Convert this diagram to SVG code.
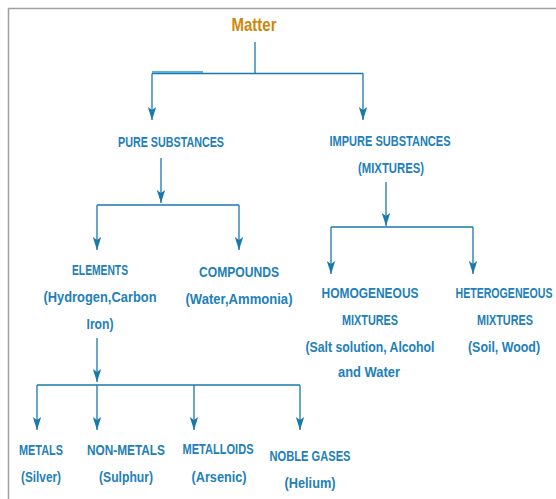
<svg xmlns="http://www.w3.org/2000/svg" width="556" height="499" viewBox="0 0 556 499">
<defs>
<marker id="ah" markerUnits="userSpaceOnUse" markerWidth="14" markerHeight="10" viewBox="0 -5 14 10" refX="13" refY="0" orient="auto">
<path d="M0,-4.2 L13,0 L0,4.2 L3,0 z" fill="#1a78aa"/>
</marker>
<style>
.t{font-family:"Liberation Sans",Arial,sans-serif;font-size:15.5px;font-weight:bold;fill:#2280b8;text-anchor:middle}
.c{stroke:#1a78aa;stroke-width:1.3;fill:none}
.a{stroke:#1a78aa;stroke-width:1.3;fill:none;marker-end:url(#ah)}
</style>
</defs>
<rect width="556" height="499" fill="#ffffff"/>
<path d="M8.5,499 V8.5 H556" stroke="#a0a0a0" stroke-width="1.5" fill="none"/>
<g id="connectors">
<path class="c" d="M255,42 V73.5"/>
<path class="c" d="M152,73.5 H363"/>
<line x1="152" y1="72" x2="203" y2="72" stroke="#5aaee0" stroke-width="2"/>
<path class="a" d="M152,73.5 V120"/>
<path class="a" d="M363,73.5 V120"/>
<path class="a" d="M161,158 V203"/>
<path class="c" d="M97,205 H239"/>
<path class="a" d="M97,205 V250"/>
<path class="a" d="M239,205 V250"/>
<path class="a" d="M97,338 V382"/>
<path class="c" d="M37,385 H300"/>
<path class="a" d="M37,385 V430"/>
<path class="a" d="M97,385 V430"/>
<path class="a" d="M194,385 V430"/>
<path class="a" d="M300,385 V430"/>
<path class="a" d="M386,182 V226"/>
<path class="c" d="M331,227 H473"/>
<path class="a" d="M331,227 V274"/>
<path class="a" d="M473,227 V274"/>
</g>
<g id="matter"><text x="254" y="31" class="t" style="fill:#cc880c;font-size:19px" textLength="45" lengthAdjust="spacingAndGlyphs">Matter</text></g>
<g id="pure"><text x="171" y="147" class="t" textLength="106" lengthAdjust="spacingAndGlyphs">PURE SUBSTANCES</text></g>
<g id="impure">
<text x="390" y="146" class="t" textLength="121" lengthAdjust="spacingAndGlyphs">IMPURE SUBSTANCES</text>
<text x="391" y="173" class="t" textLength="66" lengthAdjust="spacingAndGlyphs">(MIXTURES)</text>
</g>
<g id="elements">
<text x="100" y="275" class="t" textLength="56" lengthAdjust="spacingAndGlyphs">ELEMENTS</text>
<text x="100" y="302" class="t" textLength="113" lengthAdjust="spacingAndGlyphs">(Hydrogen,Carbon</text>
<text x="100" y="329" class="t" textLength="27" lengthAdjust="spacingAndGlyphs">Iron)</text>
</g>
<g id="compounds">
<text x="239" y="277" class="t" textLength="80" lengthAdjust="spacingAndGlyphs">COMPOUNDS</text>
<text x="239" y="304" class="t" textLength="107" lengthAdjust="spacingAndGlyphs">(Water,Ammonia)</text>
</g>
<g id="homogeneous">
<text x="370" y="298" class="t" textLength="97" lengthAdjust="spacingAndGlyphs">HOMOGENEOUS</text>
<text x="370" y="325" class="t" textLength="56" lengthAdjust="spacingAndGlyphs">MIXTURES</text>
<text x="370" y="352" class="t" textLength="129" lengthAdjust="spacingAndGlyphs">(Salt solution, Alcohol</text>
<text x="369" y="377" class="t" textLength="62" lengthAdjust="spacingAndGlyphs">and Water</text>
</g>
<g id="heterogeneous" transform="translate(504,0) scale(0.7,1)">
<text x="0" y="298" class="t" textLength="138.6" lengthAdjust="spacingAndGlyphs">HETEROGENEOUS</text>
<text x="1.4" y="325" class="t" textLength="80" lengthAdjust="spacingAndGlyphs">MIXTURES</text>
<text x="0" y="352" class="t" textLength="102.9" lengthAdjust="spacingAndGlyphs">(Soil, Wood)</text>
</g>
<g id="metals">
<text x="41" y="455" class="t" textLength="44" lengthAdjust="spacingAndGlyphs">METALS</text>
<text x="41" y="482" class="t" textLength="40" lengthAdjust="spacingAndGlyphs">(Silver)</text>
</g>
<g id="nonmetals">
<text x="126" y="455" class="t" textLength="78" lengthAdjust="spacingAndGlyphs">NON-METALS</text>
<text x="126" y="482" class="t" textLength="54" lengthAdjust="spacingAndGlyphs">(Sulphur)</text>
</g>
<g id="metalloids">
<text x="218" y="454" class="t" textLength="71" lengthAdjust="spacingAndGlyphs">METALLOIDS</text>
<text x="219" y="482" class="t" textLength="55" lengthAdjust="spacingAndGlyphs">(Arsenic)</text>
</g>
<g id="noblegases">
<text x="310" y="461" class="t" textLength="81" lengthAdjust="spacingAndGlyphs">NOBLE GASES</text>
<text x="310" y="488" class="t" textLength="51" lengthAdjust="spacingAndGlyphs">(Helium)</text>
</g>
</svg>
